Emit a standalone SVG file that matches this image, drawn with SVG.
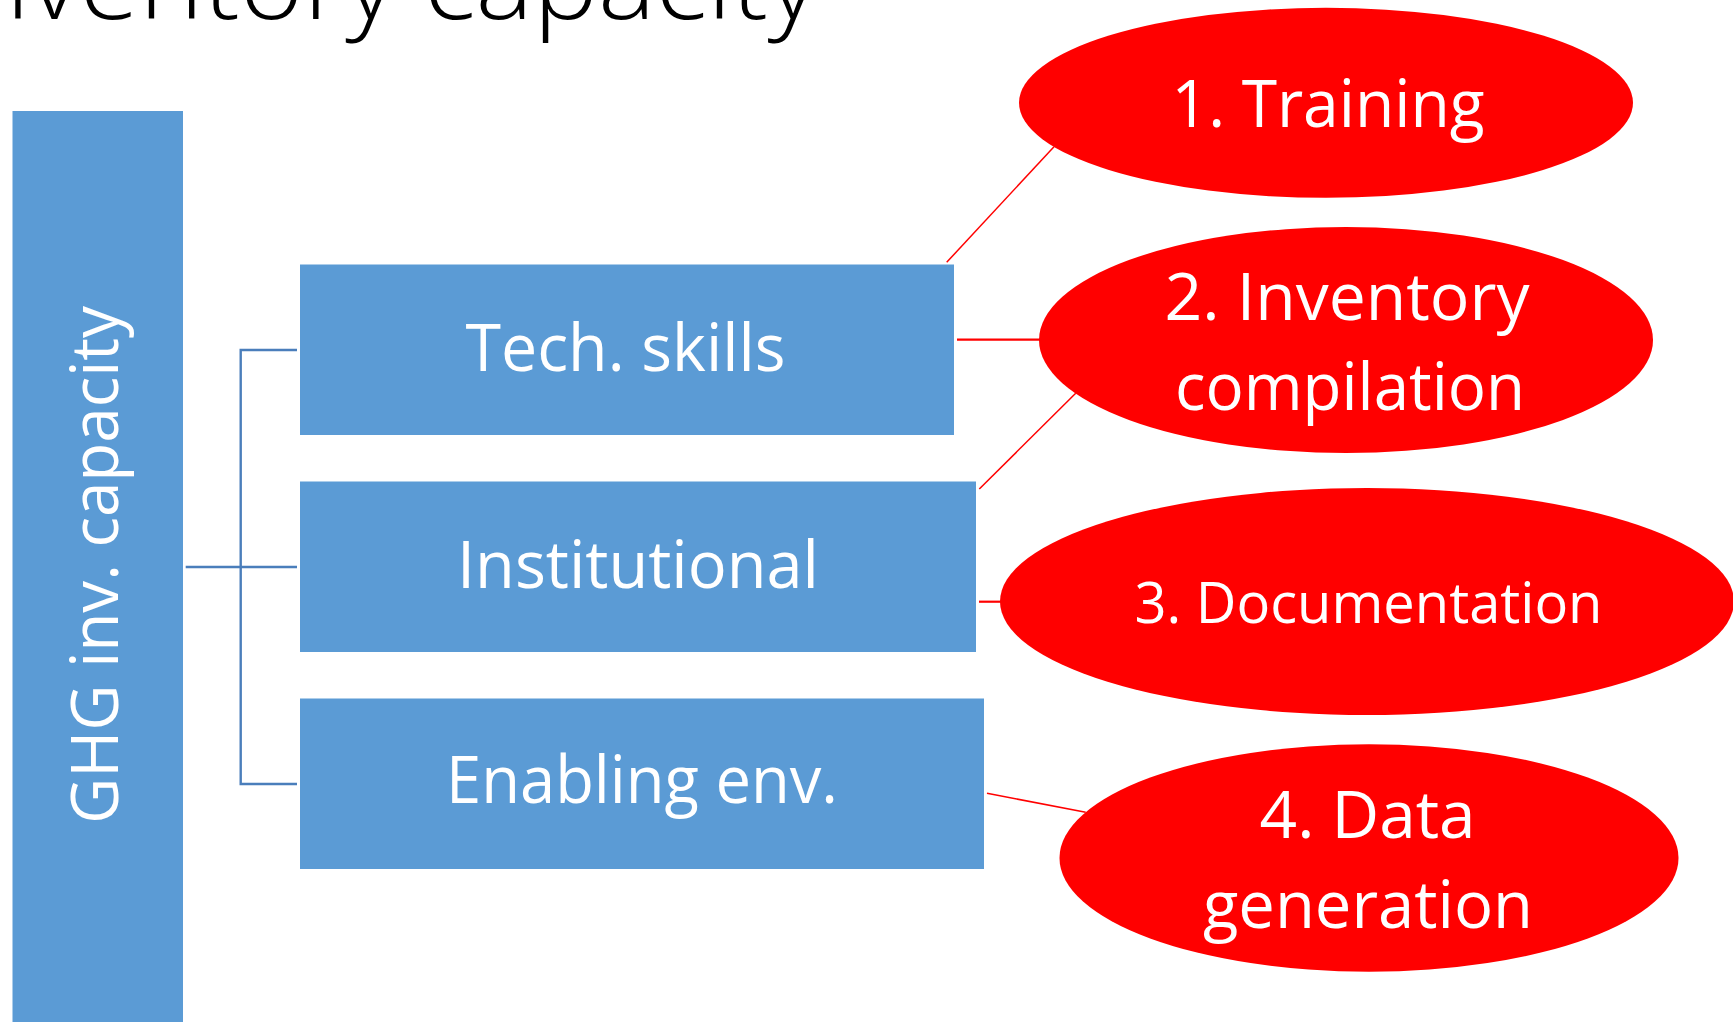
<svg xmlns="http://www.w3.org/2000/svg" width="1733" height="1022" viewBox="0 0 1733 1022">
<style>
.box{fill:#5B9BD5;}
.oval{fill:#FF0000;}
.bt{font-family:"Open Sans","Liberation Sans",sans-serif;fill:#FFFFFF;font-size:65px;text-anchor:middle;}
.ot{font-family:"Open Sans","Liberation Sans",sans-serif;fill:#FFFFFF;font-size:65px;text-anchor:middle;}
.tree{stroke:#4A7EBB;stroke-width:2.4;fill:none;}
.rl{stroke:#FF0000;stroke-width:1.5;fill:none;}
.rl2{stroke:#FF0000;stroke-width:2.2;fill:none;}
</style>
<rect width="1733" height="1022" fill="#FFFFFF"/>
<text id="title" x="-62" y="19" font-family="Open Sans, Liberation Sans, sans-serif" font-weight="300" font-size="102" fill="#000000" textLength="880" lengthAdjust="spacingAndGlyphs">Inventory capacity</text>

<g id="connectors">
<polyline class="tree" points="297,350 240.7,350 240.7,784 297,784"/>
<line class="tree" x1="185.7" y1="567" x2="297" y2="567"/>
<line class="rl" x1="946.7" y1="262.3" x2="1054" y2="146.7"/>
<line class="rl2" x1="957" y1="339.7" x2="1040" y2="339.7"/>
<line class="rl" x1="979.3" y1="489" x2="1075.7" y2="393.3"/>
<line class="rl2" x1="979" y1="601.7" x2="1001" y2="601.7"/>
<line class="rl" x1="987" y1="793.3" x2="1085.7" y2="812.3"/>
</g>

<g id="ghg">
<rect class="box" x="12.5" y="111" width="170.5" height="911"/>
<text class="bt" transform="translate(118,565) rotate(-90)" x="0" y="0" textLength="518" lengthAdjust="spacingAndGlyphs">GHG inv. capacity</text>
</g>

<g id="tech">
<rect class="box" x="300" y="264.5" width="654" height="170.5"/>
<text class="bt" x="625.5" y="371" textLength="320" lengthAdjust="spacingAndGlyphs">Tech. skills</text>
</g>
<g id="institutional">
<rect class="box" x="300" y="481.5" width="676" height="170.5"/>
<text class="bt" x="638" y="588.3" textLength="362" lengthAdjust="spacingAndGlyphs">Institutional</text>
</g>
<g id="enabling">
<rect class="box" x="300" y="698.5" width="684" height="170.5"/>
<text class="bt" x="642" y="803.3" textLength="392" lengthAdjust="spacingAndGlyphs">Enabling env.</text>
</g>

<g id="training">
<ellipse class="oval" cx="1326" cy="102.8" rx="307" ry="95"/>
<text class="ot" x="1328" y="126.7" textLength="313" lengthAdjust="spacingAndGlyphs">1. Training</text>
</g>
<g id="inventory">
<ellipse class="oval" cx="1346" cy="340" rx="307" ry="113"/>
<text class="ot" x="1347" y="320" textLength="365" lengthAdjust="spacingAndGlyphs">2. Inventory</text>
<text class="ot" x="1350" y="410" textLength="350" lengthAdjust="spacingAndGlyphs">compilation</text>
</g>
<g id="documentation">
<ellipse class="oval" cx="1367" cy="601.5" rx="367" ry="113.5"/>
<text class="ot" x="1368.5" y="623.3" textLength="468" lengthAdjust="spacingAndGlyphs" style="font-size:56px">3. Documentation</text>
</g>
<g id="data">
<ellipse class="oval" cx="1369" cy="858" rx="309.5" ry="113.7"/>
<text class="ot" x="1367.6" y="838.3" textLength="216" lengthAdjust="spacingAndGlyphs">4. Data</text>
<text class="ot" x="1368" y="928.3" textLength="330" lengthAdjust="spacingAndGlyphs">generation</text>
</g>
</svg>
